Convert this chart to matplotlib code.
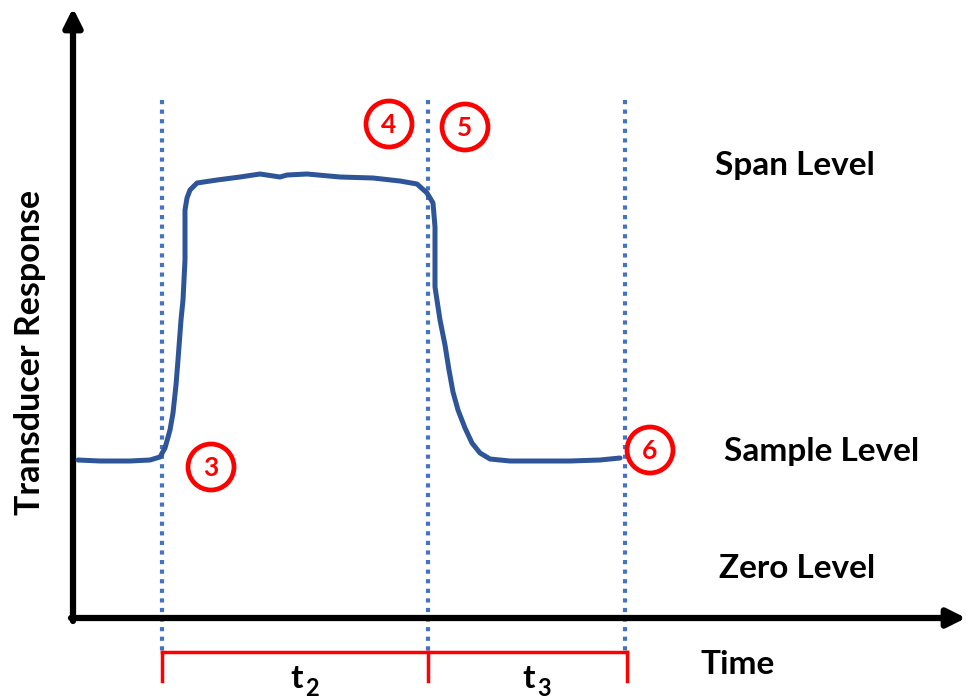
import matplotlib
matplotlib.use("Agg")
import matplotlib.pyplot as plt
from matplotlib.patches import Ellipse

plt.rcParams['font.family'] = ['Lato', 'DejaVu Sans']

# ---- data (diagram coordinates: x = time, y = response, screen-like units, y grows downward) ----
curve_x = [78, 100, 130, 150, 160, 165, 170, 173, 176, 178, 181, 183, 185, 185, 187, 190, 197, 217,
           240, 260, 280, 287, 307, 340, 373, 400, 417, 427, 433, 435, 435, 440, 445, 449, 453,
           458, 465, 472, 480, 490, 510, 540, 570, 600, 620]
curve_y = [460, 461, 461, 460, 457, 448, 430, 413, 385, 360, 320, 300, 260, 210, 198, 190, 183, 180,
           177, 174, 177, 175, 174, 177, 178, 181, 184, 193, 203, 227, 287, 320, 345, 370, 392,
           410, 428, 443, 453, 459, 461, 461, 461, 460, 458]

event_x = [162, 428, 625]          # dotted event markers
bracket_ends = [162, 428, 627]
interval_subs = ["2", "3"]
interval_label_x = [297, 529]

marker_numbers = ["3", "4", "5", "6"]
marker_x = [211, 389, 465, 650]
marker_y = [467, 124, 127, 450]

level_labels = ["Span Level", "Sample Level", "Zero Level"]
level_x = [795, 822, 797]
level_y = [166, 452, 568]

fig = plt.figure(figsize=(9.66, 7.0), dpi=100)
ax = fig.add_axes([0, 0, 1, 1])
ax.set_xlim(0, 966)
ax.set_ylim(700, 0)
ax.axis('off')

blue = '#2E5597'
dot_blue = '#4472C4'
red = '#FF0000'

# axes arrows
ax.annotate('', xy=(73, 8), xytext=(73, 621),
            arrowprops=dict(arrowstyle='-|>,head_length=1.1,head_width=0.55', lw=4.5, color='black',
                            shrinkA=0, shrinkB=0))
ax.annotate('', xy=(966, 618), xytext=(71, 618),
            arrowprops=dict(arrowstyle='-|>,head_length=1.1,head_width=0.55', lw=4.5, color='black',
                            shrinkA=0, shrinkB=0))

# dotted vertical lines
for x in event_x:
    ax.plot([x, x], [100, 652], color=dot_blue, lw=3, linestyle=(0, (1, 1.3)), zorder=2)

# response curve
ax.plot(curve_x, curve_y, color=blue, lw=3.6, solid_capstyle='round', solid_joinstyle='round', zorder=3)

# red bracket
ax.plot([bracket_ends[0], bracket_ends[-1]], [652, 652], color=red, lw=2.5, zorder=4)
for x in bracket_ends:
    ax.plot([x, x], [652, 681], color=red, lw=2.5, zorder=4)

for sub, x in zip(interval_subs, interval_label_x):
    ax.text(x, 678, "t", fontsize=24, fontweight='bold', ha='center', va='center')
    ax.text(x + 15, 688, sub, fontsize=17, fontweight='bold', ha='center', va='center')

ax.text(738, 665, "Time", fontsize=24, fontweight='bold', ha='center', va='center')

# numbered circles
for n, x, y in zip(marker_numbers, marker_x, marker_y):
    ax.add_patch(Ellipse((x, y), 46, 46, fill=False, edgecolor=red, lw=3.4, zorder=5))
    ax.text(x, y + 1, n, color=red, fontsize=19, fontweight='bold', ha='center', va='center', zorder=6)

for lab, x, y in zip(level_labels, level_x, level_y):
    ax.text(x, y, lab, fontsize=24, fontweight='bold', ha='center', va='center')

ax.text(30, 352, "Transducer Response", fontsize=24.5, fontweight='bold', rotation=90,
        ha='center', va='center')

fig.savefig("out.png", dpi=100)
